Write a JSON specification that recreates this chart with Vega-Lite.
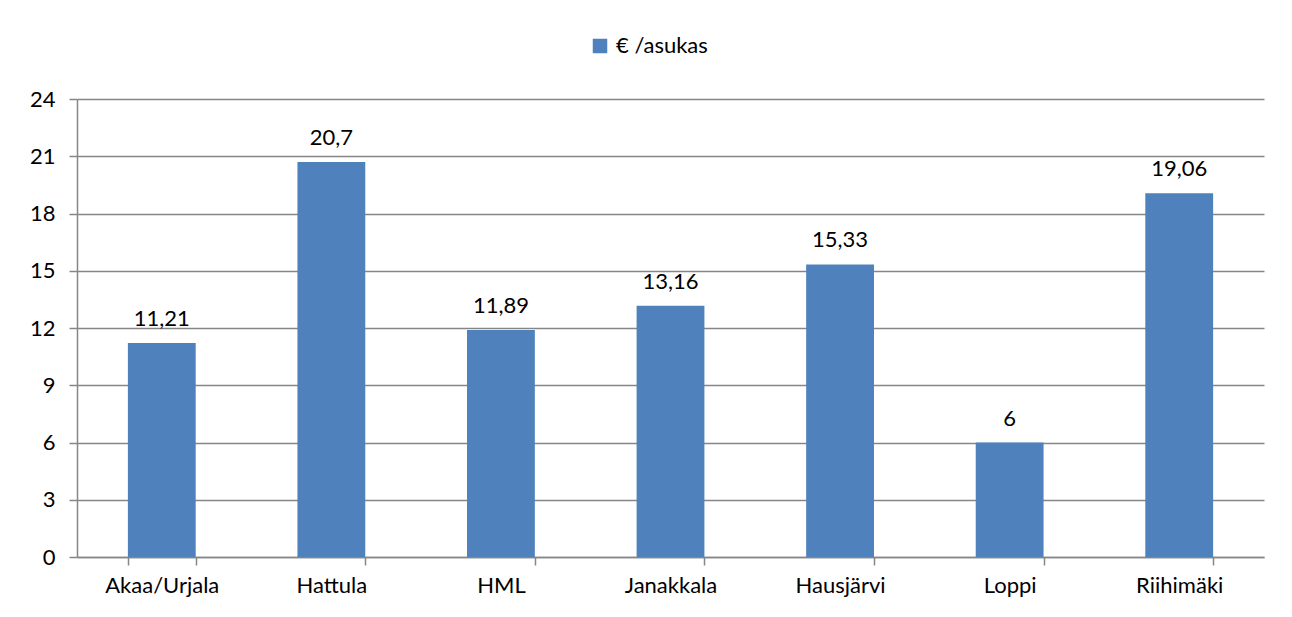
{
  "$schema": "https://vega.github.io/schema/vega-lite/v6.json",
  "width": 1187,
  "height": 458,
  "autosize": {"type": "none"},
  "padding": {"left": 77, "top": 99, "right": 28, "bottom": 60},
  "background": "white",
  "config": {
    "font": "Lato",
    "view": {"stroke": null}
  },
  "data": {
    "values": [
      {"kunta": "Akaa/Urjala", "arvo": 11.21, "teksti": "11,21", "sarja": "€ /asukas"},
      {"kunta": "Hattula", "arvo": 20.7, "teksti": "20,7", "sarja": "€ /asukas"},
      {"kunta": "HML", "arvo": 11.89, "teksti": "11,89", "sarja": "€ /asukas"},
      {"kunta": "Janakkala", "arvo": 13.16, "teksti": "13,16", "sarja": "€ /asukas"},
      {"kunta": "Hausjärvi", "arvo": 15.33, "teksti": "15,33", "sarja": "€ /asukas"},
      {"kunta": "Loppi", "arvo": 6, "teksti": "6", "sarja": "€ /asukas"},
      {"kunta": "Riihimäki", "arvo": 19.06, "teksti": "19,06", "sarja": "€ /asukas"}
    ]
  },
  "encoding": {
    "x": {
      "field": "kunta",
      "type": "nominal",
      "sort": null,
      "scale": {"paddingInner": 0.6, "paddingOuter": 0.3},
      "axis": {
        "title": null,
        "labelAngle": 0,
        "labelFontSize": 22,
        "labelColor": "black",
        "labelPadding": 10,
        "tickBand": "extent",
        "tickSize": 8,
        "tickColor": "#868686",
        "domainColor": "#868686",
        "domainWidth": 1.5,
        "tickWidth": 1.5,
        "grid": false
      }
    },
    "y": {
      "field": "arvo",
      "type": "quantitative",
      "scale": {"domain": [0, 24], "nice": false},
      "axis": {
        "title": null,
        "values": [0, 3, 6, 9, 12, 15, 18, 21, 24],
        "labelFontSize": 22,
        "labelColor": "black",
        "labelPadding": 14,
        "tickSize": 8,
        "tickColor": "#868686",
        "tickWidth": 1.5,
        "domainColor": "#868686",
        "domainWidth": 1.5,
        "grid": true,
        "gridColor": "#868686",
        "gridWidth": 1.5
      }
    }
  },
  "layer": [
    {
      "mark": {"type": "bar", "color": "#4F81BD"},
      "encoding": {
        "color": {
          "field": "sarja",
          "type": "nominal",
          "scale": {"range": ["#4F81BD"]},
          "legend": {
            "title": null,
            "orient": "none",
            "legendX": 512,
            "legendY": -64,
            "symbolType": "square",
            "symbolSize": 210,
            "symbolStrokeWidth": 0,
            "labelFontSize": 22,
            "labelColor": "black",
            "labelOffset": 5
          }
        }
      }
    },
    {
      "mark": {"type": "text", "baseline": "bottom", "dy": -12, "fontSize": 22, "color": "black"},
      "encoding": {"text": {"field": "teksti"}}
    }
  ]
}
